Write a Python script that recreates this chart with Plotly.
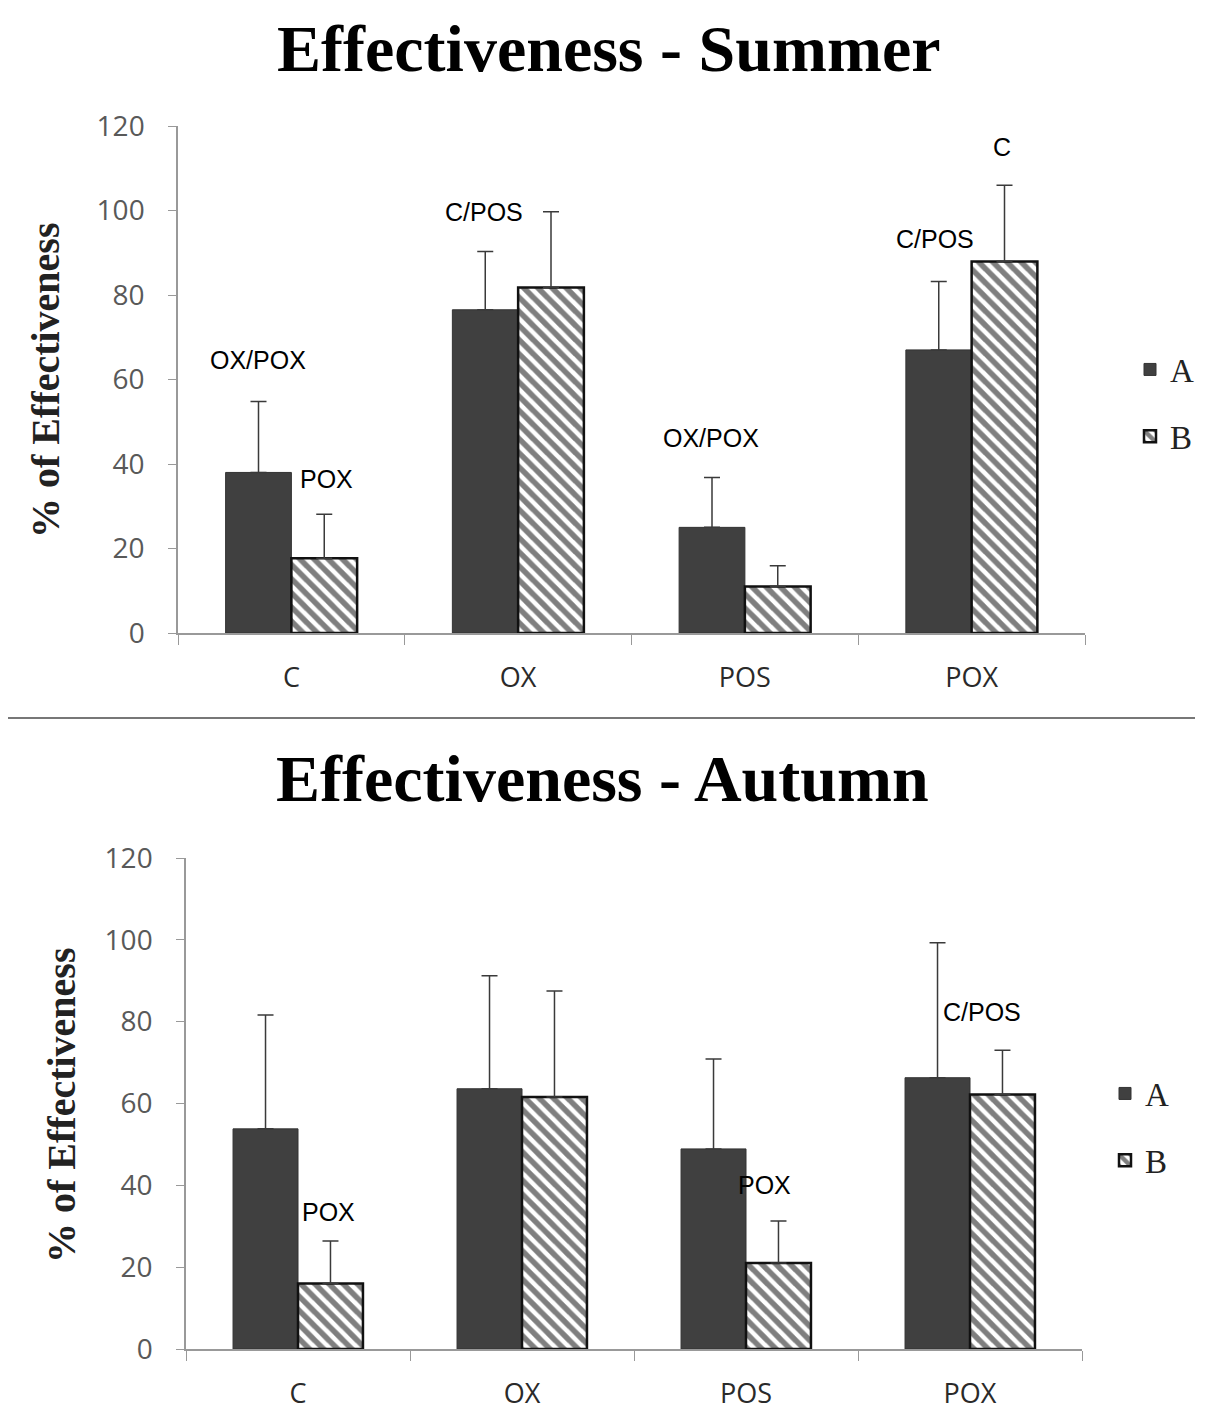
import plotly.graph_objects as go

categories = ["C", "OX", "POS", "POX"]

# Summer
summer_a = [38.0, 76.5, 25.0, 67.0]
summer_a_err = [16.8, 13.8, 11.8, 16.2]
summer_b = [17.7, 81.8, 11.0, 87.9]
summer_b_err = [10.4, 17.9, 4.9, 18.1]

# Autumn
autumn_a = [53.8, 63.6, 48.9, 66.3]
autumn_a_err = [27.8, 27.6, 22.0, 33.0]
autumn_b = [16.0, 61.6, 21.0, 62.2]
autumn_b_err = [10.4, 25.9, 10.3, 10.8]

# significance letters: (category, text, y)
summer_letters = [("C", "OX/POX", 64.6), ("C", "POX", 36.4), ("OX", "C/POS", 99.6),
                  ("POS", "OX/POX", 46.2), ("POX", "C/POS", 93.3), ("POX", "C", 115)]
summer_shift = [-33, 35, -34, -34, -37, 30]
autumn_letters = [("C", "POX", 33.5), ("POS", "POX", 40.1), ("POX", "C/POS", 82.4)]
autumn_shift = [30, 18, 12]

dark = "#404040"
serif = "Liberation Serif"
sans = "Liberation Sans"

# page has an 8px body margin, so the figure is 8px smaller each way
W, H, OFF = 1203, 1418, 8


def fx(px):
    return (px - OFF) / W


def fy(py):
    return 1 - (py - OFF) / H


def bar_a(y, err, xa, ya, leg):
    return go.Bar(x=categories, y=y, name="A", xaxis=xa, yaxis=ya, legend=leg, legendgroup="a",
                  marker=dict(color=dark, line=dict(color="#333333", width=1)),
                  error_y=dict(type="data", array=err, arrayminus=[0] * len(err), symmetric=False,
                               color="#3a3a3a", thickness=1.5, width=8))


def bar_b(y, err, xa, ya, leg):
    return go.Bar(x=categories, y=y, name="B", xaxis=xa, yaxis=ya, legend=leg, legendgroup="b",
                  marker=dict(color="white", line=dict(color="#111111", width=2.5),
                              pattern=dict(shape="\\", fgcolor="black", bgcolor="white",
                                           size=10, solidity=0.55)),
                  error_y=dict(type="data", array=err, arrayminus=[0] * len(err), symmetric=False,
                               color="#3a3a3a", thickness=1.5, width=8))


fig = go.Figure()
fig.add_trace(bar_a(summer_a, summer_a_err, "x", "y", "legend"))
fig.add_trace(bar_b(summer_b, summer_b_err, "x", "y", "legend"))
fig.add_trace(bar_a(autumn_a, autumn_a_err, "x2", "y2", "legend2"))
fig.add_trace(bar_b(autumn_b, autumn_b_err, "x2", "y2", "legend2"))

xaxis_style = dict(showline=True, linecolor="#999999", linewidth=1.5, ticks="outside",
                   tickson="boundaries", ticklen=10, tickcolor="#999999", showgrid=False,
                   automargin=False, ticklabelstandoff=20,
                   tickfont=dict(family="Open Sans", size=27, color="#2a2a2a"))
yaxis_style = dict(range=[0, 120], dtick=20, showline=True, linecolor="#999999", linewidth=1.5,
                   ticks="outside", ticklen=8, tickcolor="#999999", showgrid=False, zeroline=False,
                   automargin=False, ticklabelstandoff=18,
                   tickfont=dict(family="Open Sans", size=28, color="#595959"))

annotations = [
    dict(text="<b>Effectiveness - Summer</b>", x=fx(608), y=fy(10), xref="paper", yref="paper",
         xanchor="center", yanchor="top", showarrow=False,
         font=dict(family=serif, size=66, color="black")),
    dict(text="<b>Effectiveness - Autumn</b>", x=fx(602), y=fy(778), xref="paper", yref="paper",
         xanchor="center", yanchor="middle", showarrow=False,
         font=dict(family=serif, size=66, color="black")),
    dict(text="<b>% of Effectiveness</b>", x=fx(46), y=fy(381), xref="paper", yref="paper",
         xanchor="center", yanchor="middle", textangle=-90, showarrow=False,
         font=dict(family=serif, size=40, color="#222222")),
    dict(text="<b>% of Effectiveness</b>", x=fx(61), y=fy(1106), xref="paper", yref="paper",
         xanchor="center", yanchor="middle", textangle=-90, showarrow=False,
         font=dict(family=serif, size=40, color="#222222")),
]
for (cat, txt, yv), sh in zip(summer_letters, summer_shift):
    annotations.append(dict(text=txt, x=cat, y=yv, xref="x", yref="y", xshift=sh, showarrow=False,
                            xanchor="center", yanchor="middle",
                            font=dict(family=sans, size=25, color="black")))
for (cat, txt, yv), sh in zip(autumn_letters, autumn_shift):
    annotations.append(dict(text=txt, x=cat, y=yv, xref="x2", yref="y2", xshift=sh, showarrow=False,
                            xanchor="center", yanchor="middle",
                            font=dict(family=sans, size=25, color="black")))

legend_style = dict(font=dict(family=serif, size=33, color="#222222"), bgcolor="rgba(0,0,0,0)",
                    yanchor="middle", xanchor="left", traceorder="grouped", tracegroupgap=21,
                    itemwidth=30)

fig.update_layout(
    width=W, height=H,
    margin=dict(l=0, r=0, t=0, b=0),
    paper_bgcolor="white", plot_bgcolor="white",
    barmode="group", bargap=0.42, bargroupgap=0,
    xaxis=dict(domain=[fx(178), fx(1085)], anchor="y", **xaxis_style),
    yaxis=dict(domain=[fy(633), fy(126)], anchor="x", **yaxis_style),
    xaxis2=dict(domain=[fx(186), fx(1082)], anchor="y2", **xaxis_style),
    yaxis2=dict(domain=[fy(1349), fy(858)], anchor="x2", **yaxis_style),
    legend=dict(x=fx(1130), y=fy(403), **legend_style),
    legend2=dict(x=fx(1105), y=fy(1127), **legend_style),
    annotations=annotations,
    shapes=[dict(type="line", xref="paper", yref="paper", x0=0, x1=fx(1195), y0=fy(718), y1=fy(718),
                 line=dict(color="#777777", width=2))],
)

fig.write_html("out.html")
